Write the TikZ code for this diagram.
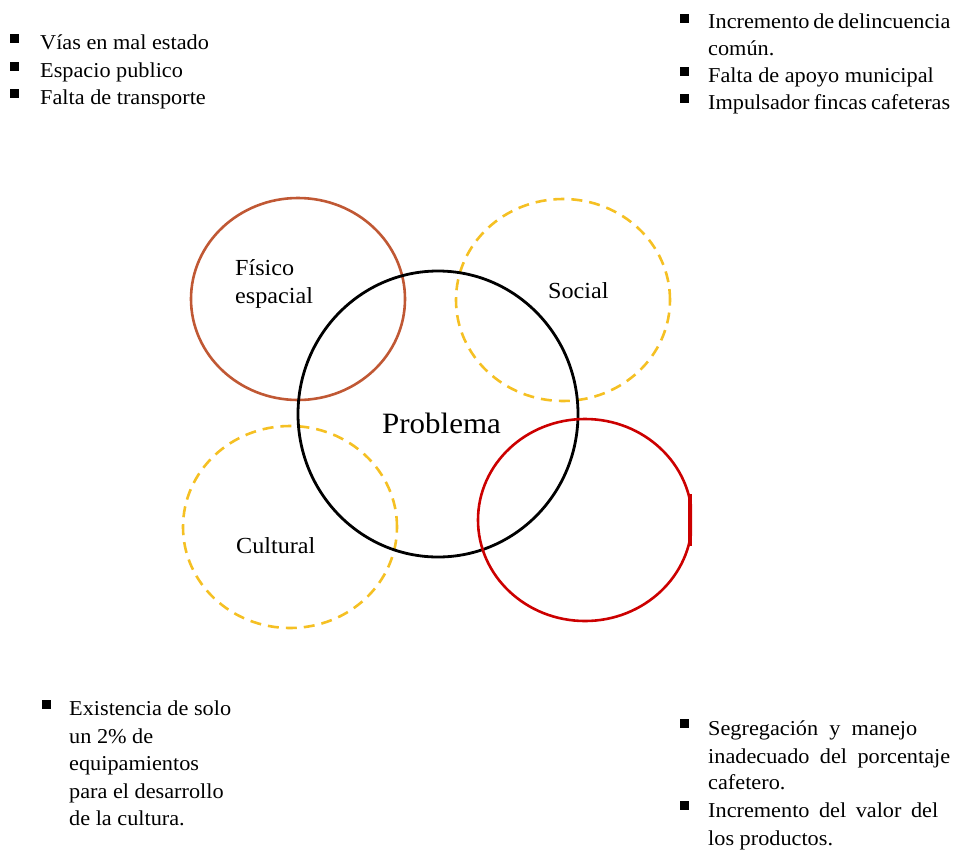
\documentclass[tikz,border=0pt]{standalone}
\usepackage{fontspec}
\setmainfont{Liberation Serif}[FakeStretch=1.05]
\usetikzlibrary{shapes.geometric}
\definecolor{brownc}{RGB}{192,88,52}
\definecolor{yelc}{RGB}{245,192,35}
\definecolor{redc}{RGB}{204,0,0}
\tikzset{
  txt/.style={anchor=base west, inner sep=0pt, font=\fontsize{21.2}{28}\selectfont},
  lab/.style={anchor=base west, inner sep=0pt, font=\fontsize{23}{28}\selectfont},
  bul/.style={rectangle, fill=black, minimum size=9pt, inner sep=0pt},
  ring/.style={ellipse, draw, line width=2.6pt, minimum width=214pt, minimum height=202pt, inner sep=0pt},
  dashring/.style={ring, draw=yelc, dash pattern=on 11pt off 7pt}
}
\begin{document}
\begin{tikzpicture}[x=1pt,y=-1pt]
\useasboundingbox (0,0) rectangle (956,852);
% circles
\node[ring, draw=brownc] (fis) at (298,299) {};
\node[dashring] (soc) at (563,300) {};
\node[dashring] (cul) at (290,527) {};
\node[ring, draw=black, line width=2.8pt, minimum width=280pt, minimum height=286pt] (prob) at (438,414) {};
\begin{scope}
\clip (0,0) rectangle (692,852);
\node[ring, draw=redc] (eco) at (585,520) {};
\end{scope}
\draw[redc, line width=4pt] (690,494) coordinate (r1) -- (690,546) coordinate (r2);
% circle labels
\node[lab] (l1) at (235,275) {Físico};
\node[lab] (l2) at (235,303) {espacial};
\node[lab] (l3) at (548,298) {Social};
\node[lab] (l4) at (236,553) {Cultural};
\node[anchor=base west, inner sep=0pt, font=\fontsize{29.5}{34}\selectfont] (l5) at (382,433) {Problema};
% top-left list
\node[bul] (b1) at (14.5,38) {};
\node[bul] (b2) at (14.5,66) {};
\node[bul] (b3) at (14.5,93) {};
\node[txt] (t1) at (40,49) {Vías en mal estado};
\node[txt] (t2) at (40,77) {Espacio publico};
\node[txt] (t3) at (40,104) {Falta de transporte};
% top-right list
\node[bul] (b4) at (684,18) {};
\node[bul] (b5) at (684,71) {};
\node[bul] (b6) at (684,98) {};
\node[txt] (t4) at (708,28) {\makebox[242pt][s]{Incremento de delincuencia}};
\node[txt] (t5) at (708,55) {común.};
\node[txt] (t6) at (708,82) {Falta de apoyo municipal};
\node[txt] (t7) at (708,109) {\makebox[242pt][s]{Impulsador fincas cafeteras}};
% bottom-left list
\node[bul] (b7) at (46,704) {};
\node[txt] (t8) at (69,715) {Existencia de solo};
\node[txt] (t9) at (69,743) {un 2\% de};
\node[txt] (t10) at (69,770) {equipamientos};
\node[txt] (t11) at (69,798) {para el desarrollo};
\node[txt] (t12) at (69,825) {de la cultura.};
% bottom-right list
\node[bul] (b8) at (684,723) {};
\node[bul] (b9) at (684,805) {};
\node[txt] (t13) at (708,735) {\makebox[209pt][s]{Segregación y manejo}};
\node[txt] (t14) at (708,763) {\makebox[242pt][s]{inadecuado del porcentaje}};
\node[txt] (t15) at (708,789) {cafetero.};
\node[txt] (t16) at (708,817) {\makebox[230pt][s]{Incremento del valor del}};
\node[txt] (t17) at (708,845) {los productos.};
\end{tikzpicture}
\end{document}
